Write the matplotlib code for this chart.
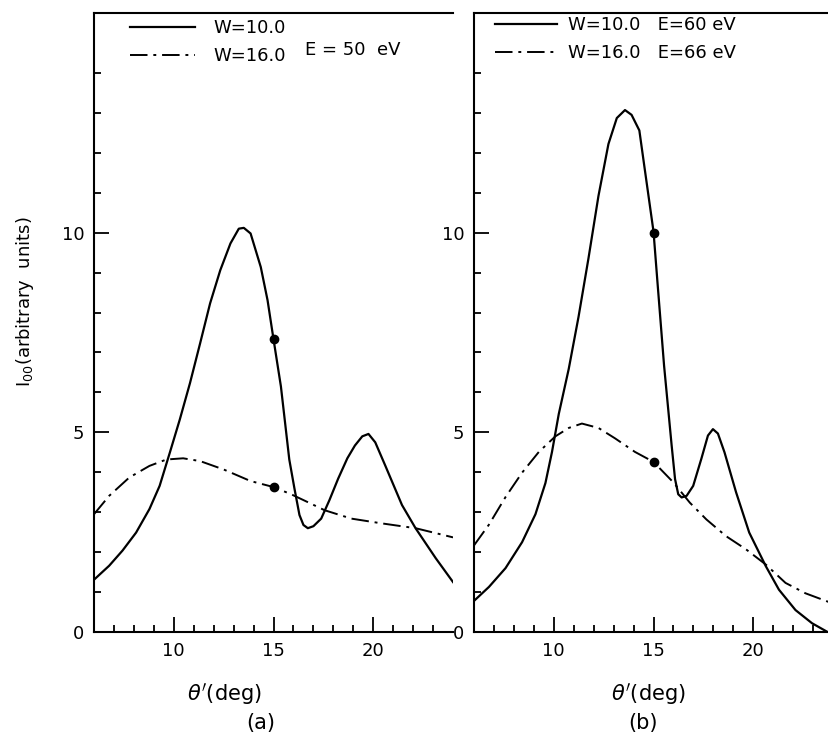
import matplotlib.pyplot as plt
from matplotlib.ticker import FixedLocator

# panel (a): E = 50 eV
theta_a_w10 = [6.0, 6.76, 7.43, 8.11, 8.78, 9.29, 9.8, 10.3, 10.81, 11.32, 11.82, 12.33,
               12.84, 13.26, 13.51, 13.85, 14.36, 14.7, 15.0, 15.37, 15.79, 16.05, 16.3,
               16.5, 16.72, 17.0, 17.39, 17.8, 18.24, 18.7, 19.08, 19.45, 19.76, 20.1,
               20.6, 21.44, 22.12, 23.13, 24.0]
I_a_w10 = [1.31, 1.66, 2.04, 2.49, 3.08, 3.66, 4.49, 5.32, 6.23, 7.23, 8.23, 9.06,
           9.73, 10.1, 10.12, 9.98, 9.14, 8.31, 7.33, 6.15, 4.32, 3.59, 2.93,
           2.68, 2.6, 2.65, 2.84, 3.3, 3.84, 4.35, 4.67, 4.9, 4.96, 4.75,
           4.17, 3.18, 2.6, 1.85, 1.25]
theta_a_w16 = [6.0, 6.76, 7.77, 8.78, 9.63, 10.47, 11.32, 12.5, 13.85, 15.0, 15.88,
               16.6, 17.56, 18.9, 20.43, 22.12, 24.0]
I_a_w16 = [2.95, 3.41, 3.87, 4.16, 4.32, 4.35, 4.28, 4.07, 3.78, 3.63, 3.45,
           3.28, 3.05, 2.84, 2.72, 2.6, 2.37]

# panel (b): E = 60 eV (W=10.0), E = 66 eV (W=16.0)
theta_b_w10 = [6.0, 6.75, 7.58, 8.41, 9.08, 9.58, 9.91, 10.25, 10.75, 11.24, 11.74,
               12.24, 12.74, 13.16, 13.57, 13.9, 14.29, 14.53, 15.0, 15.2, 15.53,
               15.91, 16.08, 16.24, 16.41, 16.66, 16.99, 17.4, 17.73, 17.98, 18.23,
               18.56, 19.14, 19.8, 20.63, 21.29, 22.12, 22.95, 23.73]
I_b_w10 = [0.78, 1.13, 1.6, 2.25, 2.95, 3.73, 4.51, 5.46, 6.59, 7.89, 9.36,
           10.92, 12.22, 12.87, 13.07, 12.95, 12.56, 11.7, 10.03, 8.75, 6.67,
           4.67, 3.83, 3.45, 3.37, 3.41, 3.66, 4.34, 4.92, 5.08, 4.97,
           4.5, 3.5, 2.49, 1.65, 1.06, 0.55, 0.22, 0.0]
theta_b_w16 = [6.0, 6.75, 7.58, 8.41, 9.25, 10.08, 10.75, 11.41, 12.24, 13.07, 14.07,
               15.0, 15.99, 16.82, 17.65, 18.64, 19.64, 20.63, 21.62, 22.62, 23.8]
I_b_w16 = [2.17, 2.69, 3.38, 3.99, 4.51, 4.9, 5.11, 5.22, 5.11, 4.85, 4.51,
           4.26, 3.75, 3.24, 2.82, 2.4, 2.07, 1.69, 1.23, 0.97, 0.75]

dot_theta = 15.0
dots_a = [7.33, 3.63]
dots_b = [10.0, 4.26]

dashdot = (0, (9, 3, 1.5, 3))

fig = plt.figure(figsize=(8.29, 7.35), dpi=100)
ax_a = fig.add_axes([0.1134, 0.1401, 0.4331, 0.8422])
ax_b = fig.add_axes([0.5718, 0.1401, 0.4282, 0.8422])

ax_a.plot(theta_a_w10, I_a_w10, color='black', lw=1.6, label='W=10.0')
ax_a.plot(theta_a_w16, I_a_w16, color='black', lw=1.4, linestyle=dashdot, label='W=16.0')
ax_a.plot([dot_theta] * 2, dots_a, 'o', color='black', ms=6)

ax_b.plot(theta_b_w10, I_b_w10, color='black', lw=1.6, label='W=10.0   E=60 eV')
ax_b.plot(theta_b_w16, I_b_w16, color='black', lw=1.4, linestyle=dashdot,
          label='W=16.0   E=66 eV')
ax_b.plot([dot_theta] * 2, dots_b, 'o', color='black', ms=6)

ax_a.set_xlim(6, 24)
ax_b.set_xlim(6, 23.8)

for ax in (ax_a, ax_b):
    ax.set_ylim(0, 15.5)
    ax.spines['right'].set_visible(False)
    for s in ('left', 'bottom', 'top'):
        ax.spines[s].set_linewidth(1.5)
    ax.xaxis.set_major_locator(FixedLocator([10, 15, 20]))
    ax.xaxis.set_minor_locator(FixedLocator([v for v in range(7, 24) if v % 5]))
    ax.yaxis.set_major_locator(FixedLocator([0, 5, 10]))
    ax.yaxis.set_minor_locator(FixedLocator([v for v in range(1, 15) if v % 5]))
    ax.tick_params(which='major', direction='in', length=11, width=1.3,
                   labelsize=13, pad=7, top=False, right=False)
    ax.tick_params(which='minor', direction='in', length=5, width=1.3,
                   top=False, right=False)

ax_a.legend(loc='upper left', bbox_to_anchor=(0.1, 0.99), frameon=False,
            fontsize=13, handlelength=3.6, handletextpad=1.0,
            borderpad=0, borderaxespad=0, labelspacing=0.55)
ax_a.text(0.588, 0.94, 'E = 50  eV', transform=ax_a.transAxes, fontsize=13,
          va='center', ha='left')

ax_b.legend(loc='upper left', bbox_to_anchor=(0.06, 0.995), frameon=False,
            fontsize=13, handlelength=3.4, handletextpad=0.6,
            borderpad=0, borderaxespad=0, labelspacing=0.55)

fig.text(0.03, 0.589, r'I$_{00}$(arbitrary  units)', rotation=90, fontsize=13,
         ha='center', va='center')
fig.text(0.271, 0.056, r"$\theta'$(deg)", fontsize=15, ha='center', va='center')
fig.text(0.782, 0.056, r"$\theta'$(deg)", fontsize=15, ha='center', va='center')
fig.text(0.314, 0.016, '(a)', fontsize=15, ha='center', va='center')
fig.text(0.776, 0.016, '(b)', fontsize=15, ha='center', va='center')

fig.savefig('out.png', dpi=100)
